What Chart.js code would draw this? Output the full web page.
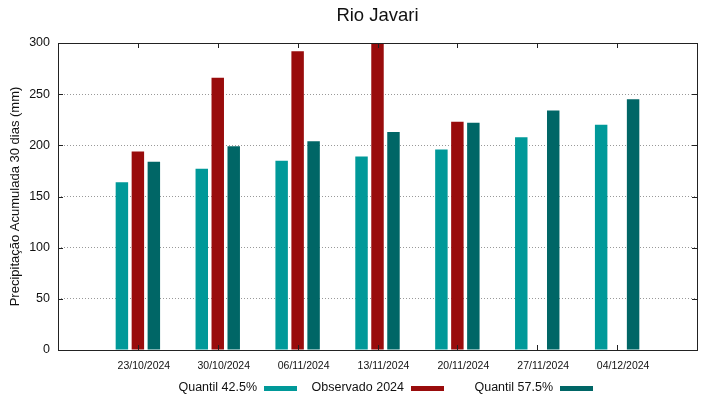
<!DOCTYPE html>
<html>
<head>
<meta charset="utf-8">
<script src="https://cdn.jsdelivr.net/npm/chart.js@4.4.1/dist/chart.umd.min.js"></script>
<style>
  html, body { margin: 0; padding: 0; background: #fff; }
  #wrap { width: 719px; height: 399px; }
</style>
</head>
<body>
<div id="wrap"><canvas id="grafico"></canvas></div>
<script>
// dados
const datas = ['23/10/2024', '30/10/2024', '06/11/2024', '13/11/2024', '20/11/2024', '27/11/2024', '04/12/2024'];
const quantil425 = [164, 177, 185, 189, 196, 208, 220];
const observado2024 = [194, 266, 292, 300, 223, null, null];
const quantil575 = [184, 199, 204, 213, 222, 234, 245];
const yTicks = [0, 50, 100, 150, 200, 250, 300];

const FONT = '"Liberation Sans", Arial, sans-serif';
const cores = ['#009999', '#990c0c', '#006666'];
const nomes = ['Quantil 42.5%', 'Observado 2024', 'Quantil 57.5%'];

// uma casa vazia em cada ponta, como no gnuplot
const pad = arr => [null, ...arr, null];
const labels = ['', ...datas, ''];

const moldura = {
    id: 'moldura',
    afterDatasetsDraw(chart) {
        const { ctx, chartArea: a, scales } = chart;
        ctx.save();
        ctx.strokeStyle = '#222';
        ctx.lineWidth = 1;
        ctx.beginPath();
        // ticks para dentro
        datas.forEach((d, i) => {
            const x = Math.round(scales.x.getPixelForValue(i + 1)) + 0.5;
            ctx.moveTo(x, a.bottom); ctx.lineTo(x, a.bottom - 5);
            ctx.moveTo(x, a.top); ctx.lineTo(x, a.top + 5);
        });
        yTicks.forEach(v => {
            const y = Math.round(scales.y.getPixelForValue(v)) + 0.5;
            ctx.moveTo(a.left, y); ctx.lineTo(a.left + 5, y);
            ctx.moveTo(a.right, y); ctx.lineTo(a.right - 5, y);
        });
        ctx.stroke();
        ctx.strokeRect(Math.round(a.left) + 0.5, Math.round(a.top) + 0.5,
                       Math.round(a.right - a.left), Math.round(a.bottom - a.top));
        ctx.restore();
    },
    afterDraw(chart) {
        const { ctx, chartArea: a } = chart;
        ctx.save();
        ctx.fillStyle = '#111';
        ctx.font = '18.5px ' + FONT;
        ctx.textAlign = 'center';
        ctx.textBaseline = 'middle';
        ctx.fillText('Rio Javari', (a.left + a.right) / 2, 16);

        // legenda: texto à direita e amostra depois
        const xFim = [257, 404, 553];
        ctx.font = '12.5px ' + FONT;
        ctx.textAlign = 'right';
        nomes.forEach((n, i) => {
            ctx.fillStyle = '#111';
            ctx.fillText(n, xFim[i], 388);
            ctx.fillStyle = cores[i];
            ctx.fillRect(xFim[i] + 7, 386, 33, 5);
        });
        ctx.restore();
    }
};

const ctx = document.getElementById('grafico').getContext('2d');
new Chart(ctx, {
    type: 'bar',
    data: {
        labels: labels,
        datasets: [
            { label: nomes[0], data: pad(quantil425), backgroundColor: cores[0] },
            { label: nomes[1], data: pad(observado2024), backgroundColor: cores[1] },
            { label: nomes[2], data: pad(quantil575), backgroundColor: cores[2] }
        ]
    },
    options: {
        responsive: true,
        maintainAspectRatio: false,
        animation: false,
        categoryPercentage: 0.6,
        barPercentage: 0.78,
        layout: { padding: { left: 0, right: 22, top: 43, bottom: 0 } },
        plugins: {
            legend: { display: false },
            title: { display: false },
            tooltip: { enabled: false }
        },
        scales: {
            x: {
                offset: false,
                grid: { display: false, drawTicks: false },
                border: { display: false },
                ticks: {
                    autoSkip: false,
                    maxRotation: 0,
                    padding: 10,
                    labelOffset: 6,
                    color: '#111',
                    font: { family: FONT, size: 10.5 }
                },
                afterFit(scale) { scale.height = 49; }
            },
            y: {
                min: 0,
                max: 300,
                grid: { color: '#999', lineWidth: 1, drawTicks: false },
                border: { display: false, dash: [1, 2] },
                ticks: {
                    stepSize: 50,
                    padding: 8,
                    color: '#111',
                    font: { family: FONT, size: 12.5 }
                },
                title: {
                    display: true,
                    text: 'Precipitação Acumulada 30 dias (mm)',
                    color: '#111',
                    font: { family: FONT, size: 13 },
                    padding: { top: 8, bottom: 0 }
                },
                afterFit(scale) { scale.width = 58; }
            }
        }
    },
    plugins: [moldura]
});
</script>
</body>
</html>
